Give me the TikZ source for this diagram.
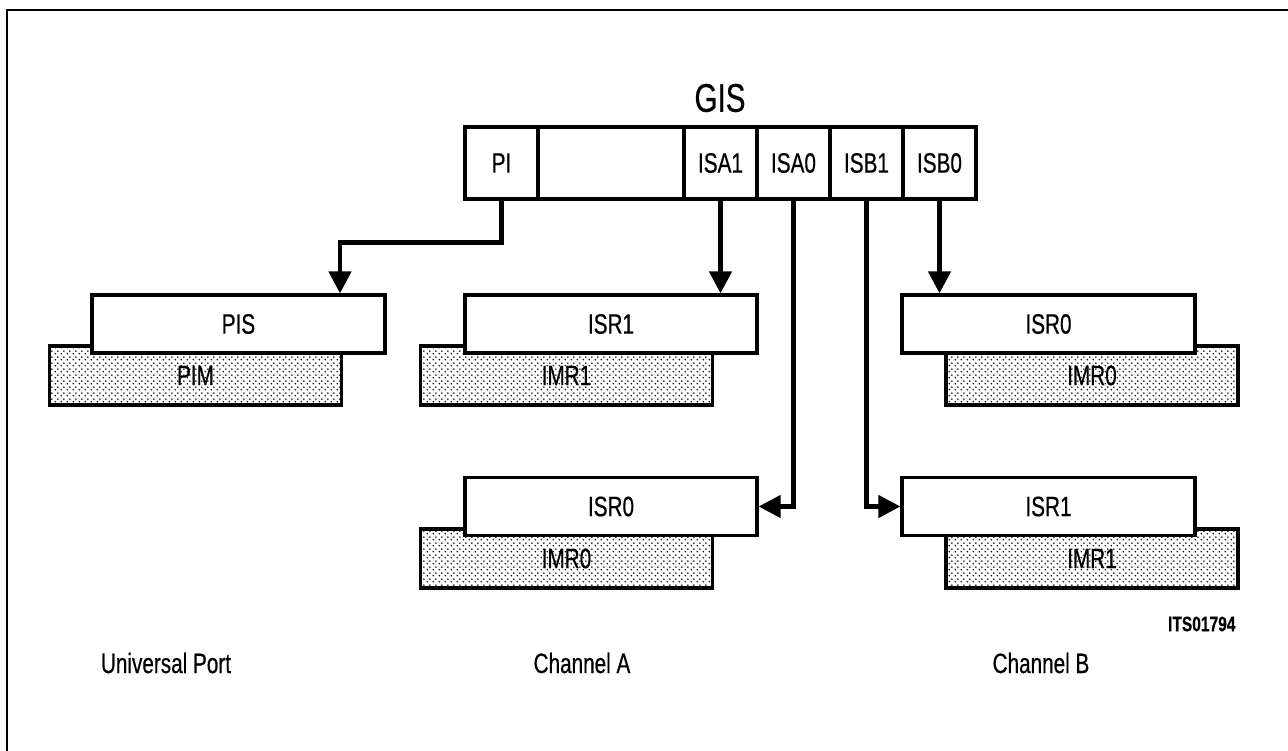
\documentclass[tikz,border=0pt]{standalone}
\usepackage{fontspec}
\setmainfont{Liberation Sans}[FakeStretch=0.74,FakeBold=0.5]
\usetikzlibrary{arrows.meta,patterns.meta,calc}
\pgfdeclarepattern{
  name=mydots,
  type=uncolored,
  bottom left={\pgfpoint{0pt}{0pt}},
  top right={\pgfpoint{6pt}{6pt}},
  tile size={\pgfpoint{6pt}{6pt}},
  code={
    \pgfpathcircle{\pgfpoint{1.5pt}{1.5pt}}{0.95pt}
    \pgfpathcircle{\pgfpoint{4.5pt}{4.5pt}}{0.95pt}
    \pgfusepath{fill}
  }
}
\tikzset{
  lbl/.style={font=\fontsize{28}{30}\selectfont},
  cell/.style={draw, line width=3.2pt, fill=white, minimum height=72pt, inner sep=0pt, lbl},
  regbox/.style={draw, line width=3.2pt, fill=white, minimum height=58pt, minimum width=292pt, inner sep=0pt, lbl},
  maskbox/.style={draw, line width=3.2pt, pattern=mydots, minimum height=59pt, minimum width=292pt, inner sep=0pt, lbl},
  arr/.style={line width=4.5pt, -{Triangle[length=22pt,width=22pt]}},
  foot/.style={font=\fontsize{28}{30}\selectfont}
}
\begin{document}
\begin{tikzpicture}[x=1pt,y=-1pt]
\useasboundingbox (0,0) rectangle (1288,751);
% frame
\draw[line width=2.5pt] (7,751) -- (7,10) -- (1288,10);

% GIS register
\node[font=\fontsize{40}{44}\selectfont] (gis) at (720,98) {GIS};
\node[cell, minimum width=73pt]  (pi)    at (501.5,163) {PI};
\node[cell, minimum width=146pt] (blank) at (611,163) {};
\node[cell, minimum width=73pt]  (isa1)  at (720.5,163) {ISA1};
\node[cell, minimum width=73pt]  (isa0)  at (793.5,163) {ISA0};
\node[cell, minimum width=73pt]  (isb1)  at (866.5,163) {ISB1};
\node[cell, minimum width=73pt]  (isb0)  at (939.5,163) {ISB0};

% Universal port
\node[maskbox] (pim) at (195.5,375.5) {PIM};
\node[regbox, minimum width=293pt] (pis) at (238.5,324) {PIS};

% Channel A
\node[maskbox] (imra1) at (566.5,375.5) {IMR1};
\node[regbox] (isra1) at (611,324) {ISR1};
\node[maskbox] (imra0) at (566.5,558.5) {IMR0};
\node[regbox] (isra0) at (611,506.5) {ISR0};

% Channel B
\node[maskbox] (imrb0) at (1092,375.5) {IMR0};
\node[regbox, minimum width=293pt] (isrb0) at (1048.5,324) {ISR0};
\node[maskbox] (imrb1) at (1092,558.5) {IMR1};
\node[regbox, minimum width=293pt] (isrb1) at (1048.5,506.5) {ISR1};

% arrows
\draw[arr] (pi.south) -- ++(0,42) -| ([xshift=101.5pt]pis.north);
\draw[arr] (isa1.south) -- (isa1.south |- isra1.north);
\draw[arr] (isb0.south) -- (isb0.south |- isrb0.north);
\draw[arr] (isa0.south) |- (isra0.east);
\draw[arr] (isb1.south) |- (isrb1.west);

% labels
\node[anchor=east, font=\fontsize{21}{23}\selectfont\bfseries] (its) at (1239,624) {ITS01794};
\node[foot] (up) at (166,663) {Universal Port};
\node[foot] (cha) at (582,663) {Channel A};
\node[foot] (chb) at (1041,663) {Channel B};
\end{tikzpicture}
\end{document}
